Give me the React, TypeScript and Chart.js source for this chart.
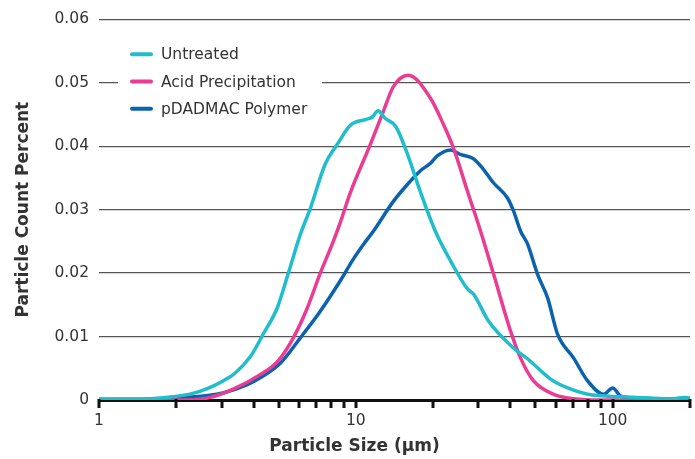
import React, { useEffect, useRef } from 'react';
import { Chart, registerables } from 'chart.js';

Chart.register(...registerables);

const seriesNames = ['Untreated', 'Acid Precipitation', 'pDADMAC Polymer'];
const seriesColors = ['#20bdcd', '#ea3c93', '#0b62ad'];

const untreatedSize = [1.0, 1.3, 1.6, 1.94, 2.3, 2.64, 3.04, 3.4, 3.88, 4.36, 4.94, 5.46, 6.08, 6.65, 7.6, 8.47, 9.52, 10.9, 11.6, 12.2, 13.0, 14.3, 15.9, 17.8, 20.4, 23.4, 27.2, 28.7, 32.9, 41.1, 46.6, 57.3, 66.8, 80, 110, 140, 173, 190, 200];
const untreatedValue = [0.0001, 0.0001, 0.0002, 0.0005, 0.001, 0.0018, 0.003, 0.0043, 0.0068, 0.0104, 0.0145, 0.02, 0.0261, 0.0302, 0.0372, 0.0403, 0.0433, 0.0442, 0.0446, 0.0456, 0.0444, 0.0431, 0.0387, 0.0329, 0.0266, 0.0219, 0.0175, 0.0167, 0.0124, 0.0082, 0.0065, 0.0033, 0.0019, 0.0009, 0.0005, 0.0003, 0.0002, 0.0004, 0.0003];

const acidSize = [1, 2, 2.64, 3.33, 4.24, 4.94, 5.71, 6.47, 7.27, 8.17, 8.7, 9.52, 11.39, 12.8, 14.0, 16.0, 19.5, 21.9, 24.0, 27.2, 30.6, 34.4, 40.0, 43.8, 49.2, 58.9, 70.5, 90, 200];
const acidValue = [0, 0, 0.0003, 0.0017, 0.004, 0.006, 0.0098, 0.0145, 0.02, 0.025, 0.028, 0.0327, 0.0403, 0.0455, 0.0494, 0.0512, 0.0476, 0.0435, 0.0397, 0.0329, 0.0266, 0.0198, 0.0109, 0.0066, 0.003, 0.0009, 0.0002, 0, 0];

const pdadmacSize = [1, 1.5, 2.0, 2.64, 3.04, 3.78, 4.24, 5.08, 6.08, 7.27, 8.7, 9.78, 10.7, 11.7, 14.0, 15.9, 17.8, 19.5, 20.8, 23.4, 25.5, 28.5, 30.6, 34.4, 39.0, 41.1, 43.8, 46.6, 51.0, 55.8, 61.0, 70.5, 79.9, 92.2, 100, 107.5, 120.8, 150, 200];
const pdadmacValue = [0.0001, 0.0001, 0.0003, 0.0007, 0.0011, 0.0024, 0.0035, 0.0058, 0.0098, 0.014, 0.0188, 0.0222, 0.0245, 0.0266, 0.0313, 0.034, 0.0361, 0.0373, 0.0385, 0.0394, 0.0387, 0.0381, 0.0369, 0.0342, 0.0318, 0.0298, 0.0266, 0.0246, 0.0198, 0.0161, 0.0104, 0.0066, 0.003, 0.0009, 0.0019, 0.0006, 0.0003, 0.0001, 0.0001];

const xTickValues = [1, 2, 3, 4, 5, 6, 7, 8, 9, 10, 20, 30, 40, 50, 60, 70, 80, 90, 100, 200];
const xTickLabels = ['1', '', '', '', '', '', '', '', '', '10', '', '', '', '', '', '', '', '', '100', ''];
const yTickValues = [0, 0.01, 0.02, 0.03, 0.04, 0.05, 0.06];
const yTickLabels = ['0', '0.01', '0.02', '0.03', '0.04', '0.05', '0.06'];

const xTitle = 'Particle Size (µm)';
const yTitle = 'Particle Count Percent';

const FONT = '"DejaVu Sans", Verdana, sans-serif';
const TEXT = '#333333';

function pts(xs: number[], ys: number[]) {
  return xs.map((x, i) => ({ x, y: ys[i] }));
}

const legendPlugin = {
  id: 'insideLegend',
  afterDatasetsDraw(chart: any) {
    const ctx = chart.ctx;
    const { left, top } = chart.chartArea;
    ctx.save();
    ctx.fillStyle = '#ffffff';
    ctx.fillRect(left + 19, top + 20, 204, 86);
    chart.data.datasets.forEach((ds: any, i: number) => {
      const y = top + 35 + i * 27.2;
      ctx.strokeStyle = ds.borderColor;
      ctx.lineWidth = 4;
      ctx.lineCap = 'round';
      ctx.beginPath();
      ctx.moveTo(left + 33, y);
      ctx.lineTo(left + 52, y);
      ctx.stroke();
      ctx.fillStyle = TEXT;
      ctx.font = '15.5px ' + FONT;
      ctx.textBaseline = 'middle';
      ctx.textAlign = 'left';
      ctx.fillText(ds.label, left + 62, y + 1);
    });
    ctx.restore();
  },
};

const axisDecorPlugin = {
  id: 'axisDecor',
  afterDraw(chart: any) {
    const ctx = chart.ctx;
    const xs = chart.scales.x;
    const bottom = chart.chartArea.bottom;
    ctx.save();
    ctx.fillStyle = '#111111';
    xTickValues.forEach((v) => {
      const px = Math.round(xs.getPixelForValue(v));
      ctx.fillRect(px - 1.5, bottom - 1, 3, 9);
    });
    ctx.fillStyle = TEXT;
    ctx.font = 'bold 17px ' + FONT;
    ctx.textAlign = 'center';
    ctx.textBaseline = 'middle';
    ctx.fillText(xTitle, chart.width / 2 + 7, chart.height - 12);
    ctx.restore();
  },
};

export default function App() {
  const ref = useRef<HTMLCanvasElement>(null);
  useEffect(() => {
    if (!ref.current) return;
    Chart.defaults.font.family = FONT;
    const chart = new Chart(ref.current, {
      type: 'line',
      data: {
        datasets: [
          { label: seriesNames[0], data: pts(untreatedSize, untreatedValue), borderColor: seriesColors[0] },
          { label: seriesNames[1], data: pts(acidSize, acidValue), borderColor: seriesColors[1] },
          { label: seriesNames[2], data: pts(pdadmacSize, pdadmacValue), borderColor: seriesColors[2] },
        ].map((d) => ({
          ...d,
          borderWidth: 3.5,
          pointRadius: 0,
          fill: false,
          cubicInterpolationMode: 'monotone' as const,
        })),
      },
      options: {
        responsive: false,
        animation: false,
        layout: { padding: { top: 18, right: 5, left: 0, bottom: 0 } },
        plugins: { legend: { display: false }, tooltip: { enabled: false } },
        scales: {
          x: {
            type: 'logarithmic',
            min: 1,
            max: 200,
            afterBuildTicks: (s: any) => {
              s.ticks = xTickValues.map((v) => ({ value: v }));
            },
            afterFit: (s: any) => {
              s.height = 59;
            },
            ticks: {
              autoSkip: false,
              maxRotation: 0,
              padding: 5,
              color: TEXT,
              font: { size: 15.5 },
              callback: (_v: any, i: number) => xTickLabels[i],
            },
            grid: {
              display: true,
              drawOnChartArea: false,
              drawTicks: true,
              tickLength: 7,
              color: '#111111',
              lineWidth: 2,
            },
            border: { display: true, color: '#111111', width: 3 },
            title: { display: false },
          },
          y: {
            type: 'linear',
            min: 0,
            max: 0.06,
            afterBuildTicks: (s: any) => {
              s.ticks = yTickValues.map((v) => ({ value: v }));
            },
            afterFit: (s: any) => {
              s.width = 99;
            },
            ticks: {
              padding: 10,
              color: TEXT,
              font: { size: 15.5 },
              callback: (_v: any, i: number) => yTickLabels[i],
            },
            grid: { color: '#555555', lineWidth: 1.3, drawTicks: false },
            border: { display: false },
            title: { display: true, text: yTitle, color: TEXT, font: { size: 17, weight: 'bold' }, padding: { top: 13, bottom: 0 } },
          },
        },
      },
      plugins: [legendPlugin, axisDecorPlugin],
    } as any);
    return () => chart.destroy();
  }, []);
  return (
    <div style={{ position: 'absolute', left: 0, top: 0, width: 695, height: 459 }}>
      <canvas ref={ref} width={695} height={459} />
    </div>
  );
}
